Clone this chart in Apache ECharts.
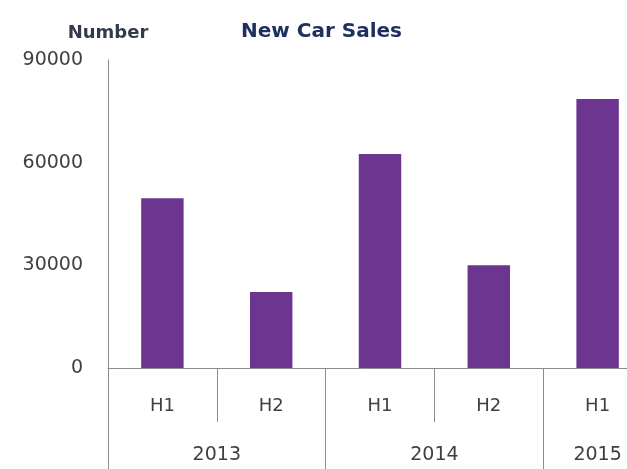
<!DOCTYPE html>
<html>
<head>
<meta charset="utf-8">
<script src="https://cdn.jsdelivr.net/npm/echarts@6/dist/echarts.min.js"></script>
<style>
  html, body { margin: 0; padding: 0; background: #fff; }
  #main { width: 627px; height: 469px; }
</style>
</head>
<body>
<div id="main"></div>
<script>
// Data
var years = ['2013', '2014', '2015'];
var halvesPerYear = [2, 2, 1];
var halves = ['H1', 'H2', 'H1', 'H2', 'H1'];
var sales = [49600, 22200, 62500, 30000, 78600];
var yTicks = [0, 30000, 60000, 90000];

// Build the lower (year) axis: half-category points, labels in the middle of each group
var yearAxisData = [];
var yearLabelIdx = {};
var yearTickIdx = {};
for (var i = 0; i <= halves.length * 2; i++) yearAxisData.push('');
var start = 0;
years.forEach(function (y, k) {
    yearTickIdx[start * 2] = true;
    yearAxisData[start * 2 + halvesPerYear[k]] = y;
    yearLabelIdx[start * 2 + halvesPerYear[k]] = true;
    start += halvesPerYear[k];
});

var font = 'DejaVu Sans';
var axisGray = '#8c8c8c';

var chart = echarts.init(document.getElementById('main'));
chart.setOption({
    animation: false,
    title: {
        text: 'New Car Sales',
        left: 236,
        top: 17,
        textStyle: {
            fontFamily: font,
            fontSize: 20,
            fontWeight: 'bold',
            color: '#1f3060'
        }
    },
    grid: {
        left: 108,
        top: 60,
        right: -25,
        bottom: 101,
        containLabel: false,
        outerBoundsMode: 'none'
    },
    xAxis: [
        {
            type: 'category',
            data: halves,
            position: 'bottom',
            axisLine: { lineStyle: { color: axisGray, width: 1 } },
            axisTick: {
                show: true,
                interval: 0,
                length: 54,
                lineStyle: { color: axisGray }
            },
            axisLabel: {
                margin: 29,
                fontFamily: font,
                fontSize: 18,
                color: '#404040'
            }
        },
        {
            type: 'category',
            data: yearAxisData,
            position: 'bottom',
            offset: 0,
            boundaryGap: false,
            axisLine: { show: false },
            axisTick: {
                show: true,
                length: 120,
                interval: function (idx) { return !!yearTickIdx[idx]; },
                lineStyle: { color: axisGray }
            },
            axisLabel: {
                margin: 78,
                fontFamily: font,
                fontSize: 19,
                color: '#404040',
                interval: function (idx) { return !!yearLabelIdx[idx]; }
            }
        }
    ],
    yAxis: {
        type: 'value',
        min: yTicks[0],
        max: yTicks[yTicks.length - 1],
        interval: yTicks[1] - yTicks[0],
        name: 'Number',
        nameLocation: 'end',
        nameGap: 18,
        nameTextStyle: {
            fontFamily: font,
            fontSize: 18,
            fontWeight: 'bold',
            color: '#333a4d',
            align: 'center'
        },
        axisLine: { show: true, lineStyle: { color: axisGray } },
        axisTick: { show: false },
        splitLine: { show: false },
        axisLabel: {
            margin: 25,
            fontFamily: font,
            fontSize: 19,
            color: '#404040',
            formatter: function (v) { return String(v); }
        }
    },
    series: [
        {
            type: 'bar',
            xAxisIndex: 0,
            data: sales,
            barWidth: '39%',
            itemStyle: { color: '#6b3590' }
        }
    ]
});
</script>
</body>
</html>
